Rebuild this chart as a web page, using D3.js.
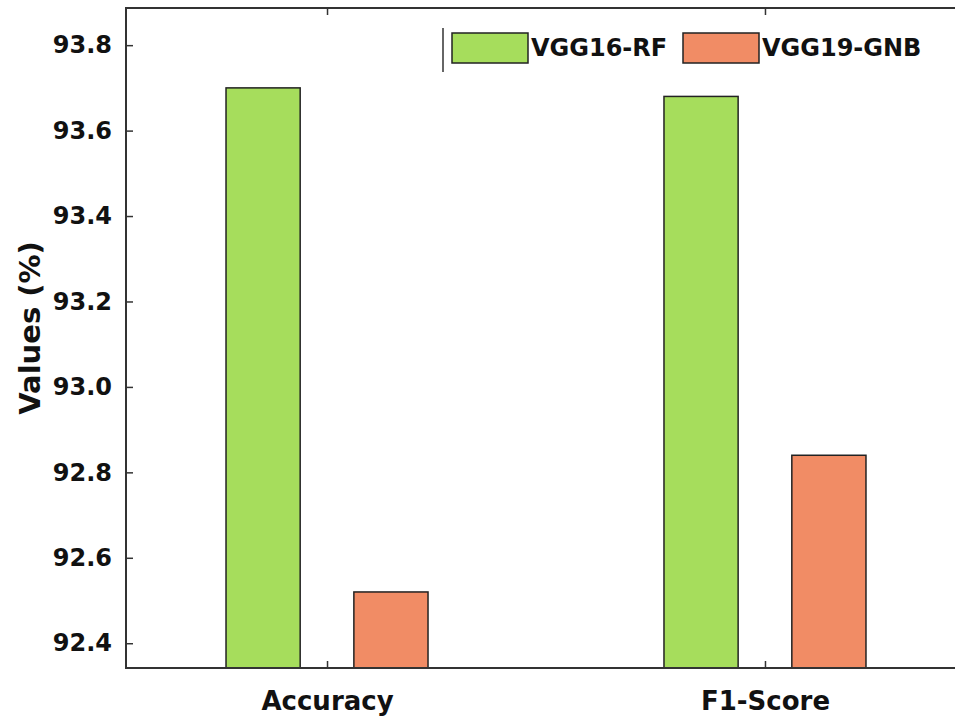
<!DOCTYPE html>
<html>
<head>
<meta charset="utf-8">
<script src="https://cdn.jsdelivr.net/npm/d3@7"></script>
<style>
  html, body { margin: 0; padding: 0; background: #fff; overflow: hidden; }
  svg { display: block; overflow: hidden; }
  text { font-family: "DejaVu Sans", Verdana, sans-serif; font-weight: bold; fill: #111; }
</style>
</head>
<body>
<svg id="chart" width="955" height="722"></svg>
<script>
// Metric categories and model results (%)
const categories = ["Accuracy", "F1-Score"];
const seriesNames = ["VGG16-RF", "VGG19-GNB"];
const vgg16rf = [93.70, 93.68];
const vgg19gnb = [92.52, 92.84];
const yTicks = [92.4, 92.6, 92.8, 93.0, 93.2, 93.4, 93.6, 93.8];
const colors = ["#a6dd5c", "#f18c65"];

const svg = d3.select("#chart");
const plotLeft = 126, plotRight = 966, plotTop = 8, plotBottom = 668;

const x = d3.scalePoint().domain(categories).range([plotLeft, plotRight]).padding(0.459);
const xs = d3.scaleBand().domain(seriesNames).range([-101, 101]).paddingInner(0.42);
const y = d3.scaleLinear().domain([92.342, 93.887]).range([plotBottom, plotTop]);

const rows = categories.map((c, i) => ({ cat: c, vals: [vgg16rf[i], vgg19gnb[i]] }));

// bars
const g = svg.append("g");
rows.forEach(r => {
  seriesNames.forEach((s, j) => {
    g.append("rect")
      .attr("x", x(r.cat) + xs(s))
      .attr("y", y(r.vals[j]))
      .attr("width", xs.bandwidth())
      .attr("height", plotBottom - y(r.vals[j]))
      .attr("fill", colors[j])
      .attr("stroke", "#222")
      .attr("stroke-width", 1.5);
  });
});

// frame (the right edge falls past the canvas)
const frame = svg.append("g").attr("stroke", "#333").attr("stroke-width", 2).attr("fill", "none");
frame.append("path")
  .attr("d", `M${plotRight},${plotTop}H${plotLeft}V${plotBottom}H${plotRight}`);

// y axis with inward ticks
const yAxis = svg.append("g")
  .attr("transform", `translate(${plotLeft},0)`)
  .call(d3.axisLeft(y).tickValues(yTicks).tickFormat(d3.format(".1f")).tickSizeInner(-7).tickSizeOuter(0).tickPadding(14));
yAxis.select(".domain").remove();
yAxis.selectAll(".tick line").attr("stroke", "#333").attr("stroke-width", 1.5);
yAxis.selectAll(".tick text").style("font-size", "24px");

// x axis: inward ticks on bottom and top
const xAxis = svg.append("g")
  .attr("transform", `translate(0,${plotBottom})`)
  .call(d3.axisBottom(x).tickSizeInner(-7).tickSizeOuter(0).tickPadding(24));
xAxis.select(".domain").remove();
xAxis.selectAll(".tick line").attr("stroke", "#333").attr("stroke-width", 1.5);
xAxis.selectAll(".tick text").style("font-size", "26px");

const xTop = svg.append("g")
  .attr("transform", `translate(0,${plotTop})`)
  .call(d3.axisTop(x).tickSizeInner(-7).tickSizeOuter(0).tickFormat(""));
xTop.select(".domain").remove();
xTop.selectAll(".tick line").attr("stroke", "#333").attr("stroke-width", 1.5);

// y axis title
svg.append("text")
  .attr("transform", `translate(40,${(plotTop + plotBottom) / 2 - 10}) rotate(-90)`)
  .attr("text-anchor", "middle")
  .style("font-size", "29px")
  .text("Values (%)");

// legend
const legend = svg.append("g");
legend.append("line")
  .attr("x1", 443).attr("x2", 443).attr("y1", 28).attr("y2", 72)
  .attr("stroke", "#333").attr("stroke-width", 1.5);
const legX = [452, 683];
seriesNames.forEach((s, j) => {
  legend.append("rect")
    .attr("x", legX[j]).attr("y", 33)
    .attr("width", 76).attr("height", 30)
    .attr("fill", colors[j]).attr("stroke", "#222").attr("stroke-width", 1.5);
  legend.append("text")
    .attr("x", legX[j] + 79).attr("y", 48).attr("dy", "0.35em")
    .style("font-size", "24px")
    .text(s);
});
</script>
</body>
</html>
